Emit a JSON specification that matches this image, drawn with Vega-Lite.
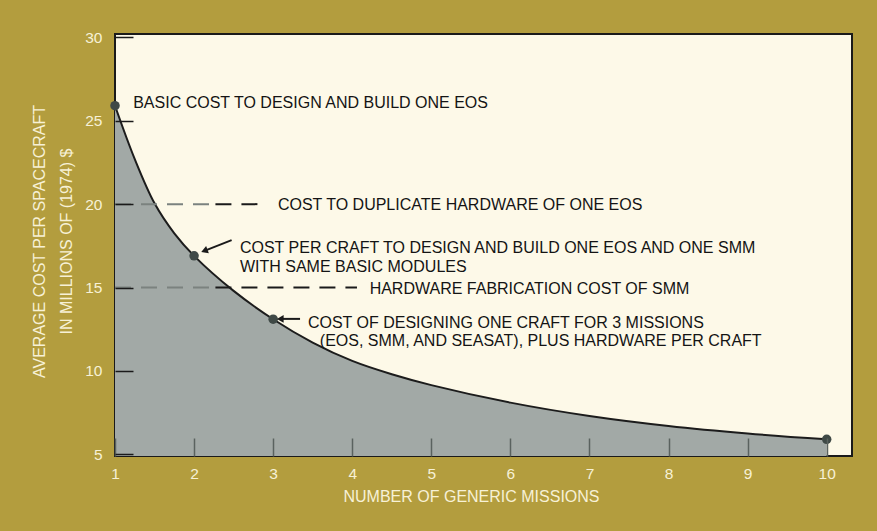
{
  "$schema": "https://vega.github.io/schema/vega-lite/v6.json",
  "width": 737,
  "height": 422,
  "autosize": "none",
  "padding": {"left": 115, "top": 34, "right": 25, "bottom": 75},
  "background": "#b39d3e",
  "view": {"fill": "#fdf9e8", "stroke": "#1a1a1a", "strokeWidth": 2},
  "config": {"font": "Liberation Sans"},
  "datasets": {
    "curve": [
      {"x": 1, "y": 25.9},
      {"x": 1.25, "y": 22.7},
      {"x": 1.5, "y": 20.05},
      {"x": 1.75, "y": 18.25},
      {"x": 2, "y": 16.9},
      {"x": 2.5, "y": 14.8},
      {"x": 3, "y": 13.1},
      {"x": 3.5, "y": 11.7},
      {"x": 4, "y": 10.6},
      {"x": 4.5, "y": 9.8},
      {"x": 5, "y": 9.15},
      {"x": 6, "y": 8.1},
      {"x": 7, "y": 7.3},
      {"x": 8, "y": 6.7},
      {"x": 9, "y": 6.25},
      {"x": 10, "y": 5.9}
    ],
    "points": [
      {"x": 1, "y": 25.9},
      {"x": 2, "y": 16.9},
      {"x": 3, "y": 13.1},
      {"x": 10, "y": 5.9}
    ],
    "levels": [
      {"x": 1, "x2": 2.27, "y": 20, "part": "under"},
      {"x": 2.27, "x2": 2.9, "y": 20, "part": "over"},
      {"x": 1, "x2": 2.27, "y": 15, "part": "under"},
      {"x": 2.27, "x2": 4.06, "y": 15, "part": "over"}
    ],
    "arrows": [
      {"name": "two", "x": 2.475, "y": 17.84, "x2": 2.13, "y2": 17.2},
      {"name": "three", "x": 3.34, "y": 13.12, "x2": 3.09, "y2": 13.12}
    ],
    "notes": [
      {"x": 1.23, "y": 26.05, "text": ["BASIC COST TO DESIGN AND BUILD ONE EOS"]},
      {"x": 3.06, "y": 19.95, "text": ["COST TO DUPLICATE HARDWARE OF ONE EOS"]},
      {"x": 2.58, "y": 17.36, "text": ["COST PER CRAFT TO DESIGN AND BUILD ONE EOS AND ONE SMM", "WITH SAME BASIC MODULES"]},
      {"x": 4.22, "y": 14.91, "text": ["HARDWARE FABRICATION COST OF SMM"]},
      {"x": 3.44, "y": 12.9, "text": ["COST OF DESIGNING ONE CRAFT FOR 3 MISSIONS"]},
      {"x": 3.59, "y": 11.78, "text": ["(EOS, SMM, AND SEASAT), PLUS HARDWARE PER CRAFT"]}
    ]
  },
  "encoding": {
    "x": {
      "field": "x",
      "type": "quantitative",
      "scale": {"domain": [1, 10.32], "nice": false, "zero": false},
      "axis": {
        "values": [1, 2, 3, 4, 5, 6, 7, 8, 9, 10],
        "title": "NUMBER OF GENERIC MISSIONS",
        "titleFont": "Liberation Sans",
        "titleFontSize": 16,
        "titleFontWeight": "normal",
        "titleColor": "#f7f1d6",
        "titleX": 356,
        "titleY": 32,
        "titleBaseline": "top",
        "labelFont": "Liberation Sans",
        "labelFontSize": 15.5,
        "labelColor": "#f7f1d6",
        "labelPadding": 28,
        "labelFlush": false,
        "domain": false,
        "grid": false,
        "tickSize": -18,
        "tickWidth": 1.5,
        "tickColor": "#5a625f",
        "zindex": 1
      }
    },
    "y": {
      "field": "y",
      "type": "quantitative",
      "scale": {"domain": [4.9, 30.2], "nice": false, "zero": false},
      "axis": {
        "values": [5, 10, 15, 20, 25, 30],
        "title": ["AVERAGE COST PER SPACECRAFT", "IN MILLIONS OF (1974) $"],
        "titleFont": "Liberation Sans",
        "titleFontSize": 16,
        "titleFontWeight": "normal",
        "titleColor": "#f7f1d6",
        "titleLineHeight": 27,
        "titleAngle": -90,
        "titleBaseline": "top",
        "titleAlign": "center",
        "titleX": -84,
        "titleY": 207,
        "labelFont": "Liberation Sans",
        "labelFontSize": 15.5,
        "labelColor": "#f7f1d6",
        "labelPadding": 31,
        "labelFlush": false,
        "domain": false,
        "grid": false,
        "tickSize": -18,
        "tickWidth": 1.5,
        "tickColor": "#1a1a1a",
        "zindex": 1
      }
    }
  },
  "layer": [
    {
      "data": {"name": "curve"},
      "mark": {
        "type": "area",
        "interpolate": "catmull-rom",
        "color": "#a2a9a6",
        "opacity": 1,
        "line": {"color": "#1c1c1c", "strokeWidth": 2}
      },
      "encoding": {"y2": {"datum": 4.9}}
    },
    {
      "data": {"name": "levels"},
      "mark": {"type": "rule", "strokeWidth": 2, "strokeDash": [16, 10]},
      "encoding": {
        "x2": {"field": "x2"},
        "color": {
          "field": "part",
          "type": "nominal",
          "scale": {"domain": ["under", "over"], "range": ["#7b827f", "#1a1a1a"]},
          "legend": null
        }
      }
    },
    {
      "data": {"name": "points"},
      "mark": {"type": "point", "shape": "circle", "filled": true, "size": 90, "color": "#3f4946", "opacity": 1}
    },
    {
      "data": {"name": "arrows"},
      "mark": {"type": "rule", "strokeWidth": 2, "color": "#1a1a1a"},
      "encoding": {"x2": {"field": "x2"}, "y2": {"field": "y2"}}
    },
    {
      "data": {"name": "arrows"},
      "transform": [{"filter": "datum.name === 'two'"}],
      "mark": {"type": "point", "shape": "triangle-up", "filled": true, "size": 60, "angle": 249, "color": "#1a1a1a", "opacity": 1},
      "encoding": {"x": {"field": "x2", "type": "quantitative"}, "y": {"field": "y2", "type": "quantitative"}}
    },
    {
      "data": {"name": "arrows"},
      "transform": [{"filter": "datum.name === 'three'"}],
      "mark": {"type": "point", "shape": "triangle-up", "filled": true, "size": 60, "angle": 270, "color": "#1a1a1a", "opacity": 1},
      "encoding": {"x": {"field": "x2", "type": "quantitative"}, "y": {"field": "y2", "type": "quantitative"}}
    },
    {
      "data": {"name": "notes"},
      "mark": {"type": "text", "align": "left", "baseline": "middle", "font": "Liberation Sans", "fontSize": 16, "lineHeight": 18.6, "color": "#141414"},
      "encoding": {"text": {"field": "text"}}
    }
  ]
}
